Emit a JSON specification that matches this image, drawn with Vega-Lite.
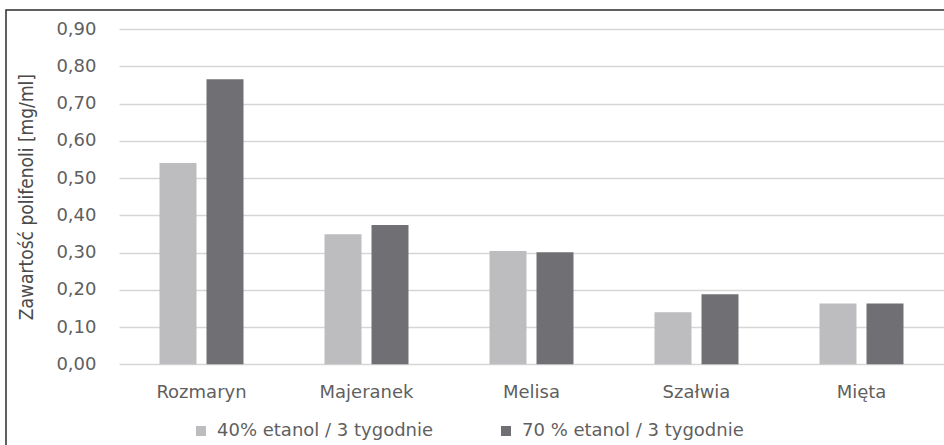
{
  "$schema": "https://vega.github.io/schema/vega-lite/v6.json",
  "autosize": {"type": "none"},
  "padding": {"left": 6, "top": 10, "right": 0, "bottom": 0},
  "width": 945,
  "height": 442,
  "background": "white",
  "data": {
    "values": [
      {"ziele": "Rozmaryn", "seria": "40% etanol / 3 tygodnie", "wartosc": 0.54},
      {"ziele": "Rozmaryn", "seria": "70 % etanol / 3 tygodnie", "wartosc": 0.765},
      {"ziele": "Majeranek", "seria": "40% etanol / 3 tygodnie", "wartosc": 0.349},
      {"ziele": "Majeranek", "seria": "70 % etanol / 3 tygodnie", "wartosc": 0.374},
      {"ziele": "Melisa", "seria": "40% etanol / 3 tygodnie", "wartosc": 0.304},
      {"ziele": "Melisa", "seria": "70 % etanol / 3 tygodnie", "wartosc": 0.301},
      {"ziele": "Szałwia", "seria": "40% etanol / 3 tygodnie", "wartosc": 0.14},
      {"ziele": "Szałwia", "seria": "70 % etanol / 3 tygodnie", "wartosc": 0.188},
      {"ziele": "Mięta", "seria": "40% etanol / 3 tygodnie", "wartosc": 0.163},
      {"ziele": "Mięta", "seria": "70 % etanol / 3 tygodnie", "wartosc": 0.163}
    ]
  },
  "mark": {"type": "bar"},
  "encoding": {
    "x": {
      "field": "ziele",
      "type": "nominal",
      "sort": ["Rozmaryn", "Majeranek", "Melisa", "Szałwia", "Mięta"],
      "scale": {"range": [113, 938], "paddingInner": 0.491, "paddingOuter": 0.2455},
      "axis": {
        "title": null,
        "domain": false,
        "ticks": false,
        "grid": false,
        "offset": -87.7,
        "labelPadding": 19,
        "labelAngle": 0,
        "labelFont": "DejaVu Sans",
        "labelFontSize": 18,
        "labelColor": "#5f5f5f"
      }
    },
    "xOffset": {
      "field": "seria",
      "type": "nominal",
      "scale": {"paddingInner": 0.213, "paddingOuter": 0}
    },
    "y": {
      "field": "wartosc",
      "type": "quantitative",
      "scale": {"domain": [0, 0.9], "range": [354.3, 19], "nice": false, "zero": true},
      "axis": {
        "values": [0, 0.1, 0.2, 0.3, 0.4, 0.5, 0.6, 0.7, 0.8, 0.9],
        "labelExpr": "replace(format(datum.value, '.2f'), '.', ',')",
        "offset": -95,
        "domain": false,
        "ticks": false,
        "grid": true,
        "gridColor": "#d6d6d6",
        "gridWidth": 1.5,
        "labelPadding": 5,
        "labelFont": "DejaVu Sans",
        "labelFontSize": 18,
        "labelColor": "#5f5f5f",
        "title": "Zawartość polifenoli [mg/ml]",
        "titleFont": "DejaVu Sans Condensed",
        "titleFontSize": 19,
        "titleFontWeight": "normal",
        "titleColor": "#4a4a4a",
        "titleAngle": 270,
        "titleAlign": "center",
        "titleBaseline": "middle",
        "titleX": -75,
        "titleY": 186.6
      }
    },
    "color": {
      "field": "seria",
      "type": "nominal",
      "scale": {
        "domain": ["40% etanol / 3 tygodnie", "70 % etanol / 3 tygodnie"],
        "range": ["#bdbdbf", "#707074"]
      },
      "legend": {
        "title": null,
        "orient": "none",
        "legendX": 186,
        "legendY": 412,
        "direction": "horizontal",
        "symbolType": "square",
        "symbolSize": 100,
        "symbolStrokeWidth": 0,
        "labelFont": "DejaVu Sans",
        "labelFontSize": 18,
        "labelColor": "#5f5f5f",
        "labelOffset": 7,
        "labelLimit": 400,
        "columnPadding": 63,
        "padding": 0
      }
    }
  },
  "config": {
    "view": {"stroke": "#2b2b2b", "strokeWidth": 1.5}
  }
}
